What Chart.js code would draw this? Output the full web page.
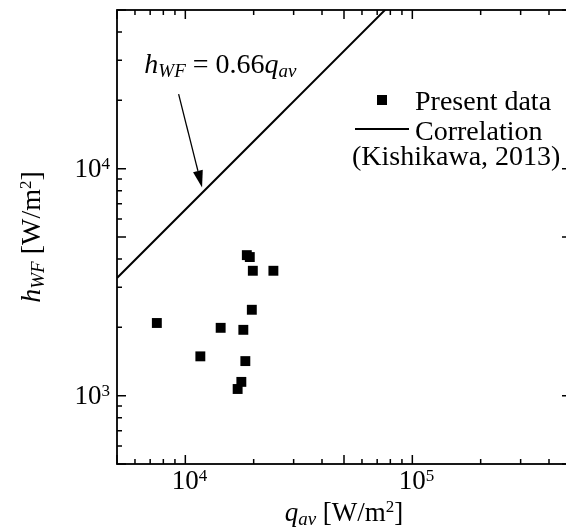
<!DOCTYPE html>
<html>
<head>
<meta charset="utf-8">
<script src="https://cdn.jsdelivr.net/npm/chart.js@4.4.1/dist/chart.umd.min.js"></script>
<style>
html, body { margin: 0; padding: 0; background: #fff; overflow: hidden; }
</style>
</head>
<body>
<canvas id="chart" width="580" height="531"></canvas>
<script>
// Données
const qPresent = [18660, 19230, 19830, 24430, 19630, 7490, 14310, 18010, 11645, 18380, 17650, 17000];
const hPresent = [4160, 4080, 3550, 3550, 2390, 2090, 1990, 1950, 1490, 1420, 1150, 1070];
const qCorr = [5000, 500000];
const hCorr = [3300, 330000];
const xDecades = [1e4, 1e5];
const yDecades = [1e3, 1e4];
const xRange = [5000, 500000];
const yRange = [500, 50000];
// annotation (en unités des axes)
const annText = [6600, 26300];
const arrowFrom = [9340, 21300];
const arrowTo = [11850, 8270];

const SERIF = '"Liberation Serif", "Times New Roman", serif';
const F = '27px ' + SERIF;
const FL = '28px ' + SERIF;
const FI = 'italic 27px ' + SERIF;
const FIL = 'italic 28px ' + SERIF;
const FSUB = 'italic 19px ' + SERIF;
const FSUP = '17px ' + SERIF;

function rich(ctx, parts, x, y, align) {
    let w = 0;
    parts.forEach(p => { ctx.font = p.f; p.w = ctx.measureText(p.t).width; w += p.w; });
    let cx = align === 'center' ? x - w / 2 : (align === 'right' ? x - w : x);
    parts.forEach(p => { ctx.font = p.f; ctx.fillText(p.t, cx, y + (p.dy || 0)); cx += p.w; });
}

function logTicks(scale) {
    const out = [];
    for (let e = Math.floor(Math.log10(scale.min)); e <= Math.ceil(Math.log10(scale.max)); e++) {
        for (let k = 1; k <= 9; k++) {
            const v = k * Math.pow(10, e);
            if (v < scale.min * 0.999 || v > scale.max * 1.001) continue;
            out.push({ v: v, len: (k === 1 || k === 5) ? 9 : 5 });
        }
    }
    return out;
}

const decorPlugin = {
    id: 'decor',
    afterDraw(chart) {
        const ctx = chart.ctx;
        const a = chart.chartArea;
        const xs = chart.scales.x, ys = chart.scales.y;
        ctx.save();
        ctx.strokeStyle = '#000';
        ctx.fillStyle = '#000';
        ctx.textAlign = 'left';
        ctx.textBaseline = 'alphabetic';

        // cadre
        ctx.lineWidth = 1.8;
        ctx.strokeRect(a.left, a.top, a.right - a.left, a.bottom - a.top);

        // graduations vers l'intérieur
        ctx.lineWidth = 1.5;
        ctx.beginPath();
        logTicks(xs).forEach(t => {
            const p = xs.getPixelForValue(t.v);
            ctx.moveTo(p, a.bottom); ctx.lineTo(p, a.bottom - t.len);
            ctx.moveTo(p, a.top); ctx.lineTo(p, a.top + t.len);
        });
        logTicks(ys).forEach(t => {
            const p = ys.getPixelForValue(t.v);
            ctx.moveTo(a.left, p); ctx.lineTo(a.left + t.len, p);
            ctx.moveTo(a.right, p); ctx.lineTo(a.right - t.len, p);
        });
        ctx.stroke();

        // libellés des graduations
        xDecades.forEach(v => {
            const p = xs.getPixelForValue(v);
            ctx.font = F;
            const w10 = ctx.measureText('10').width;
            rich(ctx, [{ t: '10', f: F }, { t: String(Math.round(Math.log10(v))), f: FSUP, dy: -8 }], p - w10 / 2, a.bottom + 25, 'left');
        });
        yDecades.forEach(v => {
            const p = ys.getPixelForValue(v);
            rich(ctx, [{ t: '10', f: F }, { t: String(Math.round(Math.log10(v))), f: FSUP, dy: -8 }], a.left - 7, p + 8, 'right');
        });

        // titres des axes
        rich(ctx, [
            { t: 'q', f: FI }, { t: 'av', f: FSUB, dy: 4 }, { t: ' [W/m', f: F },
            { t: '2', f: FSUP, dy: -9 }, { t: ']', f: F }
        ], (a.left + a.right) / 2, 521, 'center');
        ctx.save();
        ctx.translate(40, (a.top + a.bottom) / 2);
        ctx.rotate(-Math.PI / 2);
        rich(ctx, [
            { t: 'h', f: FIL }, { t: 'WF', f: FSUB, dy: 4 }, { t: ' [W/m', f: FL },
            { t: '2', f: FSUP, dy: -9 }, { t: ']', f: FL }
        ], 0, 0, 'center');
        ctx.restore();

        // annotation + flèche
        rich(ctx, [
            { t: 'h', f: FIL }, { t: 'WF', f: FSUB, dy: 4 }, { t: ' = 0.66', f: FL },
            { t: 'q', f: FIL }, { t: 'av', f: FSUB, dy: 4 }
        ], xs.getPixelForValue(annText[0]), ys.getPixelForValue(annText[1]), 'left');
        const x0 = xs.getPixelForValue(arrowFrom[0]), y0 = ys.getPixelForValue(arrowFrom[1]);
        const x1 = xs.getPixelForValue(arrowTo[0]), y1 = ys.getPixelForValue(arrowTo[1]);
        const ang = Math.atan2(y1 - y0, x1 - x0);
        const hl = 17, hw = 5;
        const bx = x1 - hl * Math.cos(ang), by = y1 - hl * Math.sin(ang);
        ctx.lineWidth = 1.3;
        ctx.beginPath();
        ctx.moveTo(x0, y0); ctx.lineTo(bx, by);
        ctx.stroke();
        ctx.beginPath();
        ctx.moveTo(x1, y1);
        ctx.lineTo(bx + hw * Math.sin(ang), by - hw * Math.cos(ang));
        ctx.lineTo(bx - hw * Math.sin(ang), by + hw * Math.cos(ang));
        ctx.closePath();
        ctx.fill();

        // légende
        ctx.fillRect(377, 95, 10, 10);
        ctx.font = FL;
        ctx.fillText('Present data', 415, 110);
        ctx.lineWidth = 2;
        ctx.beginPath();
        ctx.moveTo(355, 129); ctx.lineTo(409, 129);
        ctx.stroke();
        ctx.fillText('Correlation', 415, 140);
        ctx.fillText('(Kishikawa, 2013)', 352, 165);

        ctx.restore();
    }
};

const chart = new Chart(document.getElementById('chart').getContext('2d'), {
    type: 'scatter',
    data: {
        datasets: [{
            label: 'Present data',
            data: qPresent.map((q, i) => ({ x: q, y: hPresent[i] })),
            pointStyle: 'rect',
            pointRadius: 7,
            backgroundColor: '#000',
            borderColor: '#000',
            borderWidth: 0
        }, {
            label: 'Correlation (Kishikawa, 2013)',
            data: qCorr.map((q, i) => ({ x: q, y: hCorr[i] })),
            showLine: true,
            pointRadius: 0,
            borderColor: '#000',
            borderWidth: 2
        }]
    },
    options: {
        responsive: false,
        animation: false,
        layout: { padding: { left: 117, right: 9, top: 10, bottom: 67 } },
        plugins: {
            legend: { display: false },
            tooltip: { enabled: false }
        },
        scales: {
            x: { type: 'logarithmic', min: xRange[0], max: xRange[1], display: false },
            y: { type: 'logarithmic', min: yRange[0], max: yRange[1], display: false }
        }
    },
    plugins: [decorPlugin]
});
</script>
</body>
</html>
